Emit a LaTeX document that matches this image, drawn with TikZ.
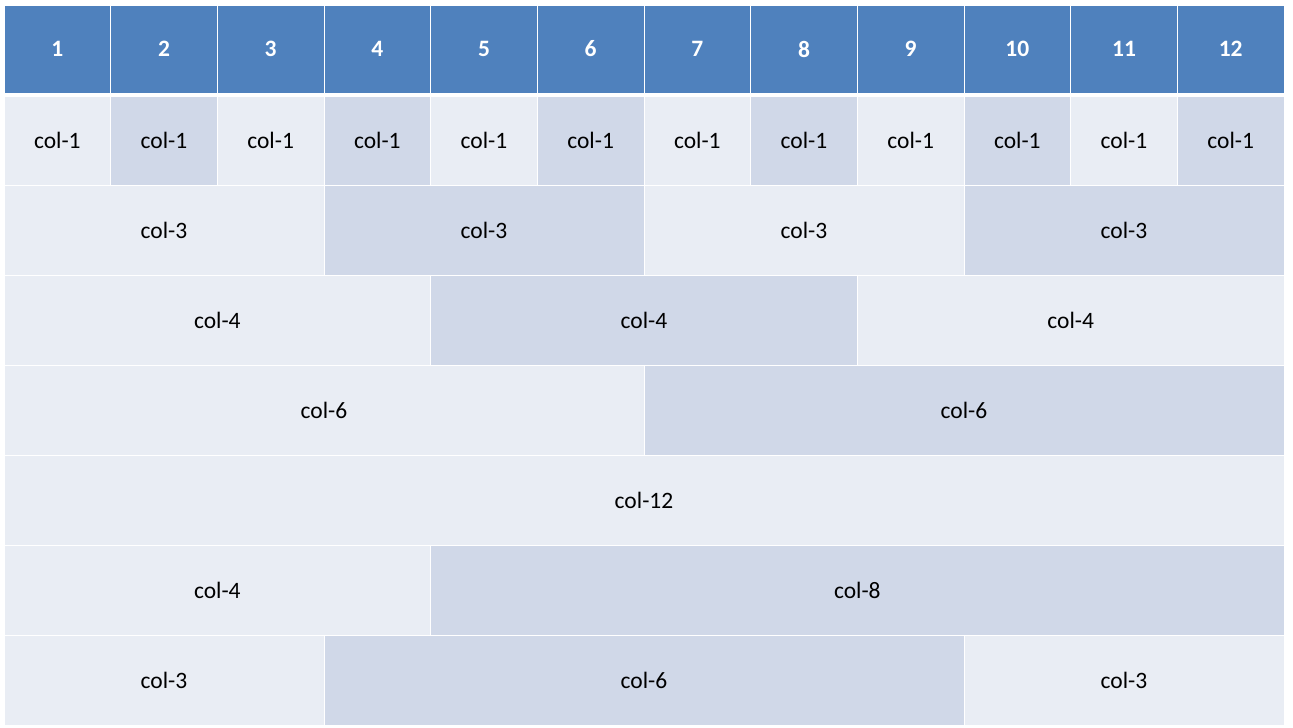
\documentclass[tikz,border=0pt]{standalone}
\usepackage{fontspec}
\setmainfont{Carlito}
\definecolor{hdr}{HTML}{4F81BD}
\definecolor{lite}{HTML}{E9EDF4}
\definecolor{dark}{HTML}{D0D8E8}
\newcommand\gcell[7]{%
  \node[cell, fill=#6, minimum width={(#3)*106.667pt}, minimum height={#5 pt}, anchor=north west]
    (#1) at ({4+(#2)*106.667},{-#4}) {#7};}
\begin{document}
\begin{tikzpicture}[x=1pt,y=1pt,
  cell/.style={draw=white, line width=1pt, inner sep=0pt, outer sep=0pt,
    font=\fontsize{23.5}{28}\selectfont, text=black},
  hcell/.style={cell, font=\fontsize{23.5}{28}\selectfont\bfseries, text=white}]
\fill[white] (0,0) rectangle (1293,-728);
\useasboundingbox (0,0) rectangle (1293,-728);
% header
\foreach \i in {1,...,12}{
  \node[hcell, fill=hdr, minimum width=106.667pt, minimum height=88pt, anchor=north west]
    (h\i) at ({4+(\i-1)*106.667},-5) {\i};
}
% row 1
\foreach \i in {1,...,12}{
  \pgfmathparse{int(mod(\i,2))}
  \ifnum\pgfmathresult=1 \def\sh{lite}\else\def\sh{dark}\fi
  \gcell{a\i}{\i-1}{1}{96}{89}{\sh}{col-1}
}
% row 2
\gcell{b1}{0}{3}{185}{90}{lite}{col-3}
\gcell{b2}{3}{3}{185}{90}{dark}{col-3}
\gcell{b3}{6}{3}{185}{90}{lite}{col-3}
\gcell{b4}{9}{3}{185}{90}{dark}{col-3}
% row 3
\gcell{c1}{0}{4}{275}{90}{lite}{col-4}
\gcell{c2}{4}{4}{275}{90}{dark}{col-4}
\gcell{c3}{8}{4}{275}{90}{lite}{col-4}
% row 4
\gcell{d1}{0}{6}{365}{90}{lite}{col-6}
\gcell{d2}{6}{6}{365}{90}{dark}{col-6}
% row 5
\gcell{e1}{0}{12}{455}{90}{lite}{col-12}
% row 6
\gcell{f1}{0}{4}{545}{90}{lite}{col-4}
\gcell{f2}{4}{8}{545}{90}{dark}{col-8}
% row 7
\gcell{g1}{0}{3}{635}{90}{lite}{col-3}
\gcell{g2}{3}{6}{635}{90}{dark}{col-6}
\gcell{g3}{9}{3}{635}{90}{lite}{col-3}
\end{tikzpicture}
\end{document}
